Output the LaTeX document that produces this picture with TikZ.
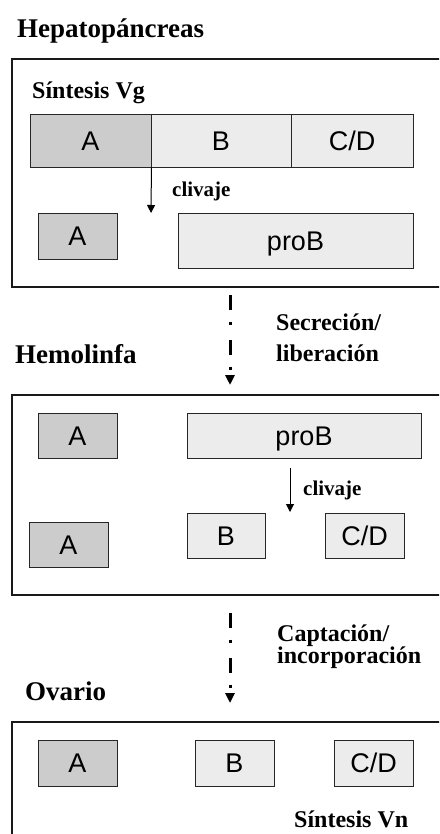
\documentclass[tikz,border=0pt]{standalone}
\usepackage{fontspec}
\setmainfont{Liberation Serif}
\newfontfamily\arialf{Liberation Sans}
\usetikzlibrary{arrows.meta}
\begin{document}
\begin{tikzpicture}[x=1pt,y=-1pt,
 lbl/.style={font=\arialf\fontsize{27}{29}\selectfont, text height=19.3pt, text depth=0pt},
 boxbase/.style={draw=black!85, line width=0.9pt, inner sep=0pt, lbl, anchor=center},
 darkbox/.style={boxbase, fill=gray!40},
 lightbox/.style={boxbase, fill=gray!15},
 title/.style={font=\bfseries\fontsize{27}{30}\selectfont, inner sep=0pt, anchor=base west},
 sub/.style={font=\bfseries\fontsize{24}{26}\selectfont, inner sep=0pt, anchor=base west},
 clv/.style={font=\bfseries\fontsize{21}{23}\selectfont, inner sep=0pt, anchor=base west},
 panel/.style={draw=black!90, line width=1.2pt},
 flow/.style={line width=1pt, -{Triangle[width=8pt,length=8pt]}},
 transfer/.style={line width=3pt, dash pattern=on 15pt off 11.5pt on 3pt off 15.5pt, -{Triangle[width=9pt,length=10pt]}}
]
\useasboundingbox (0,0) rectangle (439,834);
\clip (0,0) rectangle (439,834);
\fill[white] (0,0) rectangle (439,834);

% ---------- Panel 1: Hepatopancreas ----------
\node[title] (t1) at (17,38) {Hepatopáncreas};
\draw[panel] (450,59) -- (12,59) -- (12,287) -- (450,287);
\node[sub] (s1) at (32,99) {Síntesis Vg};
\node[darkbox,  minimum width=121pt, minimum height=53pt] (A1) at (90.5,140.5) {A};
\node[lightbox, minimum width=140pt, minimum height=53pt] (B1) at (221,140.5) {B};
\node[lightbox, minimum width=122pt, minimum height=53pt] (CD1) at (352,140.5) {C/D};
\coordinate (c1) at (151,213);
\draw[flow] (A1.south east) -- (c1);
\node[clv] (k1) at (172,197) {clivaje};
\node[darkbox,  minimum width=79pt, minimum height=46pt] (A1b) at (77.5,236) {A};
\node[lightbox, minimum width=235pt, minimum height=55pt] (P1) at (295.5,240.5) {proB};

% ---------- transfer 1 ----------
\coordinate (d1s) at (230,295);
\coordinate (d1e) at (230,385);
\draw[transfer] (d1s) -- (d1e);
\node[sub] (s2a) at (276,330) {Secreción/};
\node[sub] (s2b) at (276,361) {liberación};
\node[title] (t2) at (15,363) {Hemolinfa};

% ---------- Panel 2: Hemolinfa ----------
\draw[panel] (450,395) -- (12,395) -- (12,595) -- (450,595);
\node[darkbox,  minimum width=79pt, minimum height=45pt] (A2a) at (77.5,435.5) {A};
\node[lightbox, minimum width=234pt, minimum height=45pt] (P2) at (304,435.5) {proB};
\coordinate (c2s) at (290,468);
\coordinate (c2e) at (290,512);
\draw[flow] (c2s) -- (c2e);
\node[clv] (k2) at (303,495) {clivaje};
\node[darkbox,  minimum width=79pt, minimum height=45pt] (A2b) at (68.5,544.5) {A};
\node[lightbox, minimum width=78pt, minimum height=45pt] (B2) at (226,535.5) {B};
\node[lightbox, minimum width=79pt, minimum height=45pt] (CD2) at (364.5,535.5) {C/D};

% ---------- transfer 2 ----------
\coordinate (d2s) at (230,613);
\coordinate (d2e) at (230,703);
\draw[transfer] (d2s) -- (d2e);
\node[sub] (s3a) at (277,641) {Captación/};
\node[sub] (s3b) at (277,663) {incorporación};
\node[title] (t3) at (25,700) {Ovario};

% ---------- Panel 3: Ovario ----------
\draw[panel] (450,722) -- (12,722) -- (12,845);
\node[darkbox,  minimum width=79pt, minimum height=46pt] (A3) at (77.5,763) {A};
\node[lightbox, minimum width=79pt, minimum height=46pt] (B3) at (234.5,763) {B};
\node[lightbox, minimum width=79pt, minimum height=46pt] (CD3) at (373.5,763) {C/D};
\node[sub] (s4) at (294,827) {Síntesis Vn};
\end{tikzpicture}
\end{document}
